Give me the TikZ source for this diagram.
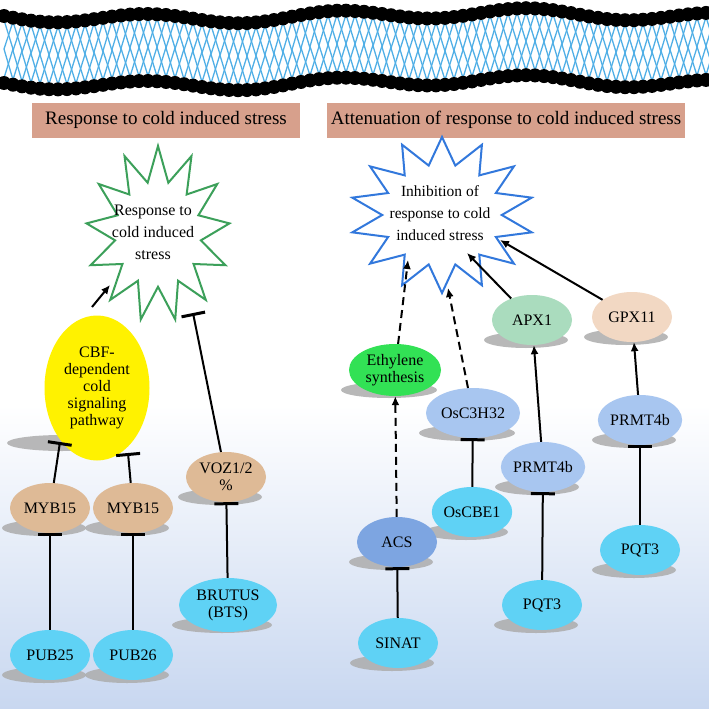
\documentclass[tikz,border=0pt]{standalone}
\usepackage{fontspec}
\setmainfont{Liberation Serif}
\usetikzlibrary{arrows.meta,shadings,shapes.geometric}
\begin{document}
\begin{tikzpicture}[x=1pt,y=-1pt,
  el/.style={ellipse,minimum width=80pt,minimum height=50pt,inner sep=0pt,align=center,font=\fontsize{16}{17}\selectfont},
  cy/.style={el,fill={rgb,255:red,95;green,210;blue,245}},
  tan/.style={el,fill={rgb,255:red,222;green,186;blue,150}},
  lb/.style={el,fill={rgb,255:red,168;green,198;blue,240}},
  sh/.style={fill=gray!65,opacity=.85},
  ar/.style={line width=2pt,-{Latex[length=9pt,width=8pt]}},
  da/.style={ar,dash pattern=on 8pt off 5pt},
  inh/.style={line width=2pt,-{Bar[width=24pt,line width=3pt]}},
  lab/.style={draw=none,fill={rgb,255:red,215;green,160;blue,140},minimum height=35pt,font=\fontsize{19}{21}\selectfont,inner sep=0pt}
]
\useasboundingbox (0,0) rectangle (709,709);
\shade[top color=white,bottom color={rgb,255:red,200;green,215;blue,240},middle color=white] (0,100) rectangle (709,709);
% membrane
\foreach \i in {0,...,78}{
  \pgfmathsetmacro{\xx}{\i*9+4}
  \pgfmathsetmacro{\w}{5*sin(\i*17)+3*sin(\i*5)}
  \pgfmathsetmacro{\xn}{\xx+9}
  \pgfmathsetmacro{\wn}{5*sin((\i+1)*17)+3*sin((\i+1)*5)}
  \draw[cyan!80!blue!70!white,line width=1.3pt] (\xx,{20+\w}) -- (\xn,{49+\w}) -- (\xx,{78+\w});
  \draw[cyan!80!blue!70!white,line width=1.3pt] (\xn,{20+\wn}) -- (\xx,{49+\w}) -- (\xn,{78+\wn});
}
\foreach \i in {0,...,79}{
  \pgfmathsetmacro{\xx}{\i*9+4}
  \pgfmathsetmacro{\w}{5*sin(\i*17)+3*sin(\i*5)}
  \fill[black] (\xx,{16+\w}) circle (7);
  \fill[black] (\xx,{83+\w}) circle (7);
}
% labels
\node[lab,minimum width=268pt] (L1) at (166,120) {Response to cold induced stress};
\node[lab,minimum width=358pt] (L2) at (506,120) {Attenuation of response to cold induced stress};
% stars
\newcommand\mystar[7]{%
 \draw[line width=2pt,draw=#5,fill=white] ({#1},{#2-#4})
   \foreach \k in {1,...,#6}{
   -- ({#1+#7*#3*cos(90+(\k-0.5)*360/#6)},{#2-#7*#4*sin(90+(\k-0.5)*360/#6)})
   -- ({#1+#3*cos(90+\k*360/#6)},{#2-#4*sin(90+\k*360/#6)})} -- cycle;}
\mystar{158}{234}{72}{88}{{rgb,255:red,60;green,160;blue,90}}{13}{0.6}
\mystar{442}{215}{92}{78}{{rgb,255:red,50;green,120;blue,220}}{14}{0.65}
\node[align=center,font=\fontsize{16}{22}\selectfont] (S1) at (153,232) {Response to\\cold induced\\stress};
\node[align=center,font=\fontsize{15.5}{22}\selectfont] (S2) at (440,213) {Inhibition of\\response to cold\\induced stress};
% shadows
\foreach \x/\y/\r in {68/423/55,50/508/42,133/508/42,50/655/42,133/655/42,226/477/42,228/605/50,395/370/48,473/413/48,532/320/42,632/317/42,543/467/42,640/420/42,472/512/42,397/542/42,398/643/42,542/605/42,640/550/42}
  \fill[sh] ({\x-6},{\y+20}) ellipse (\r pt and 8pt);
% nodes
\node[el,fill=yellow,minimum width=105pt,minimum height=145pt] (CBF) at (97,388) {CBF-\\dependent\\cold\\signaling\\pathway};
\node[tan] (M1) at (50,508) {MYB15};
\node[tan] (M2) at (133,508) {MYB15};
\node[cy] (P25) at (50,655) {PUB25};
\node[cy] (P26) at (133,655) {PUB26};
\node[tan] (VOZ) at (226,477) {VOZ1/2\\\%};
\node[cy,minimum width=98pt,minimum height=54pt] (BTS) at (228,605) {BRUTUS\\(BTS)};
\node[el,fill={rgb,255:red,50;green,225;blue,85},minimum width=92pt,minimum height=52pt] (ETH) at (395,370) {Ethylene\\synthesis};
\node[lb,minimum width=94pt] (OSC) at (473,413) {OsC3H32};
\node[el,fill={rgb,255:red,170;green,220;blue,190}] (APX) at (532,320) {APX1};
\node[el,fill={rgb,255:red,242;green,216;blue,195}] (GPX) at (632,317) {GPX11};
\node[lb] (PR1) at (543,467) {PRMT4b};
\node[lb] (PR2) at (640,420) {PRMT4b};
\node[el,fill={rgb,255:red,125;green,165;blue,225}] (ACS) at (397,542) {ACS};
\node[cy] (CBE) at (472,512) {OsCBE1};
\node[cy] (Q1) at (542,605) {PQT3};
\node[cy] (Q2) at (640,550) {PQT3};
\node[cy] (SIN) at (398,643) {SINAT};
% connectors
\coordinate (g1) at (110,285);
\coordinate (g2) at (193,313);
\coordinate (b1) at (408,260);
\coordinate (b2) at (448,288);
\coordinate (b3) at (467,253);
\coordinate (b4) at (500,240);
\coordinate (c1) at (60,442);
\coordinate (c2) at (128,453);
\coordinate (c0) at (92,307);
\draw[ar] (c0) -- (g1);
\draw[inh] (VOZ) -- (g2);
\draw[inh] (M1) -- (c1);
\draw[inh] (M2) -- (c2);
\draw[inh] (P25) -- (M1);
\draw[inh] (P26) -- (M2);
\draw[inh] (BTS) -- (VOZ);
\draw[da] (ACS) -- (ETH);
\draw[da] (ETH) -- (b1);
\draw[da] (OSC) -- (b2);
\draw[inh] (CBE) -- (OSC);
\draw[inh] (SIN) -- (ACS);
\draw[ar] (PR1) -- (APX);
\draw[ar] (APX) -- (b3);
\draw[ar] (GPX) -- (b4);
\draw[inh] (Q1) -- (PR1);
\draw[inh] (Q2) -- (PR2);
\draw[ar] (PR2) -- (GPX);
\end{tikzpicture}
\end{document}
